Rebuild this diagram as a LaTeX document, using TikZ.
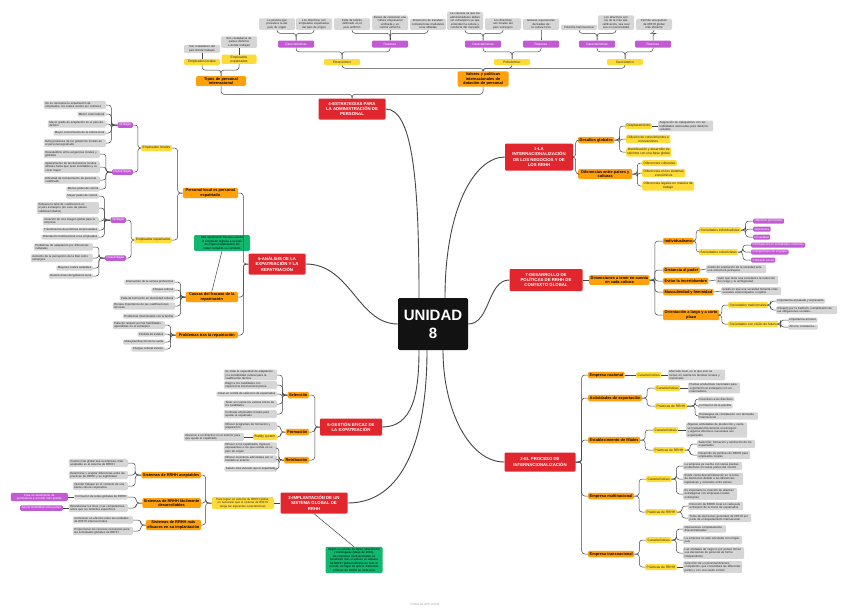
\documentclass[tikz,border=0pt]{standalone}
\usepackage{fontspec}
\setmainfont{Liberation Sans}
\usetikzlibrary{calc}
\hyphenpenalty=10000 \exhyphenpenalty=10000
\definecolor{cRed}{HTML}{E2262D}
\definecolor{cOrg}{HTML}{FFA00A}
\definecolor{cYel}{HTML}{FFDB3A}
\definecolor{cPur}{HTML}{C25BD3}
\definecolor{cGry}{HTML}{D6D6D6}
\definecolor{cGrn}{HTML}{10B86F}
\definecolor{cLine}{HTML}{454545}
\definecolor{cCen}{HTML}{121212}
\definecolor{cTxt}{HTML}{262626}
\newcommand\lnR[3][4]{\draw[conn] (#2.east) -- ++(#1,0) |- (#3.west);}
\newcommand\lnL[3][4]{\draw[conn] (#2.west) -- ++(-#1,0) |- (#3.east);}
\newcommand\lnU[3][5]{\draw[conn] (#2.north) -- ++(0,-#1) -| (#3.south);}
\begin{document}
\begin{tikzpicture}[x=1pt,y=-1pt,
  base/.style={rounded corners=1.2pt, inner xsep=1.5pt, inner ysep=1pt, align=center, text=cTxt},
  redb/.style={base, fill=cRed, text=white, font=\fontsize{4.3}{5.3}\selectfont\bfseries, inner xsep=2pt, inner ysep=1.5pt},
  org/.style={base, fill=cOrg, text=black, font=\fontsize{3.9}{4.7}\selectfont\bfseries, minimum height=6.5pt},
  yel/.style={base, fill=cYel, font=\fontsize{3.3}{4}\selectfont, minimum height=6pt},
  pur/.style={base, fill=cPur, text=white, font=\fontsize{3.2}{3.9}\selectfont, minimum height=5.5pt},
  gry/.style={base, fill=cGry, font=\fontsize{2.9}{3.5}\selectfont, align=left, minimum height=5pt, inner ysep=0.9pt},
  grn/.style={base, fill=cGrn, text=black, font=\fontsize{2.9}{3.5}\selectfont, inner ysep=1.2pt},
  tw/.style={text width=#1pt},
  conn/.style={draw=cLine, line width=0.5pt, rounded corners=3pt},
  mainl/.style={draw=cLine, line width=0.9pt},
]
\useasboundingbox[fill=white] (0,0) rectangle (848,611);

% ---------- centre ----------
\node[rounded corners=2pt, fill=cCen, text=white, font=\fontsize{15}{18}\selectfont\bfseries, minimum width=70pt, minimum height=52pt, align=center] (u) at (433,324) {UNIDAD\\8};

% ---------- main red topics ----------
\node[redb, minimum width=67pt, minimum height=21pt] (s4) at (352,109) {4-ESTRATEGIAS PARA\\LA ADMINISTRACIÓN DE\\PERSONAL};
\node[redb, minimum width=68pt, minimum height=27pt] (s1) at (539,157) {1-LA\\INTERNACIONALIZACIÓN\\DE LOS NEGOCIOS Y DE\\LOS RRHH};
\node[redb, minimum width=73pt, minimum height=22pt] (s7) at (546,280) {7-DESARROLLO DE\\POLÍTICAS DE RRHH DE\\CONTEXTO GLOBAL};
\node[redb, minimum width=71pt, minimum height=19pt] (s2) at (540,462) {2-EL PROCESO DE\\INTERNACIONALIZACIÓN};
\node[redb, minimum width=57pt, minimum height=21pt] (s5) at (277,264) {5-ANÁLISIS DE LA\\EXPATRIACIÓN Y LA\\REPATRIACIÓN};
\node[redb, minimum width=62pt, minimum height=17pt] (s6) at (351,427) {6-GESTIÓN EFICAZ DE\\LA EXPATRIACIÓN};
\node[redb, minimum width=67pt, minimum height=21pt] (s3) at (314,503) {3-IMPLANTACIÓN DE UN\\SISTEMA GLOBAL DE\\RRHH};

\draw[mainl] (s4.east) .. controls +(28,0) and +(0,-110) .. ([xshift=-14pt]u.north);
\draw[mainl] (s1.west) .. controls +(-30,0) and +(0,-90) .. ([xshift=12pt]u.north);
\draw[mainl] (s7.west) .. controls +(-22,0) and +(22,0) .. (u.east);
\draw[mainl] (s5.east) .. controls +(45,0) and +(-40,0) .. (u.west);
\draw[mainl] (s6.east) .. controls +(30,0) and +(0,45) .. ([xshift=-14pt]u.south);
\draw[mainl] (s3.east) .. controls +(55,0) and +(0,90) .. ([xshift=-6pt]u.south);
\draw[mainl] (s2.west) .. controls +(-35,0) and +(0,60) .. ([xshift=10pt]u.south);

% ---------- 4: top tree ----------
\node[org, tw=47] (tipos) at (221,81) {Tipos de personal internacional};
\node[org, tw=48] (valores) at (483,79) {Valores y políticas internacionales de dotación de personal};
\node[yel, minimum width=36pt, anchor=south] (elocT) at (202,65) {Empleados locales};
\node[yel, tw=32, anchor=south] (eexpT) at (239,64) {Empleados expatriados};
\node[gry, tw=33, align=center, anchor=south] (elocTg) at (202,53) {Son ciudadanos del país donde trabajan};
\node[gry, tw=33, align=center, anchor=south] (eexpTg) at (239,48) {Son ciudadanos de países distintos a donde trabajan};
\node[yel, minimum width=36pt] (etno) at (342,62) {Etnocéntrico};
\node[yel, minimum width=36pt] (poli) at (512,62) {Policéntrico};
\node[yel, minimum width=36pt] (geo) at (625,62) {Geocéntrico};
\node[pur, minimum width=36pt, minimum height=7pt] (etC) at (296,44) {Características};
\node[pur, minimum width=36pt, minimum height=7pt] (etR) at (390,44) {Razones};
\node[pur, minimum width=36pt, minimum height=7pt] (poC) at (483,44) {Características};
\node[pur, minimum width=36pt, minimum height=7pt] (poR) at (541,44) {Razones};
\node[pur, minimum width=36pt, minimum height=7pt] (geC) at (597,44) {Características};
\node[pur, minimum width=36pt, minimum height=7pt] (geR) at (653,44) {Razones};
\tikzset{tg/.style={gry, tw=33, align=center, anchor=south}}
\node[tg] (g1) at (277,30) {La postura que prevalece la del país de origen};
\node[tg] (g2) at (314,30) {Los directivos son empleados expatriados del país de origen};
\node[tg] (g3) at (352,30) {Falta de talento calificado en el país anfitrión};
\node[tg] (g4) at (390,30) {Deseo de conservar una cultura empresarial unificada y un control estrecho};
\node[tg] (g5) at (428,30) {Pretensión de transferir competencias medulares a las afiliadas};
\node[tg] (g6) at (465,30) {La creencia es que los administradores deben ser extranjeros ya que entienden la cultura y conducta del mercado};
\node[tg] (g7) at (503,30) {Los directivos son locales del país extranjero};
\node[tg] (g8) at (541,30) {Generar experiencias derivadas de la cultura local};
\node[tg] (g9) at (579,30) {Filosofía transnacional};
\node[tg] (g10) at (616,30) {Los directivos son los de la más alta calificación, sea cual sea su nacionalidad};
\node[tg] (g11) at (654,30) {Permite una gestión de RRHH global más eficiente};

\lnU[4]{s4}{tipos} \lnU[4]{s4}{valores}
\lnU[6]{tipos}{elocT} \lnU[6]{tipos}{eexpT}
\draw[conn] (elocT.north) -- (elocTg.south);
\draw[conn] (eexpT.north) -- (eexpTg.south);
\lnU[3]{valores}{etno} \lnU[3]{valores}{poli} \lnU[3]{valores}{geo}
\lnU[7]{etno}{etC} \lnU[7]{etno}{etR}
\lnU[7]{poli}{poC} \lnU[7]{poli}{poR}
\lnU[7]{geo}{geC} \lnU[7]{geo}{geR}
\lnU[7]{etC}{g1} \lnU[7]{etC}{g2}
\lnU[7]{etR}{g3} \lnU[7]{etR}{g4} \lnU[7]{etR}{g5}
\lnU[7]{poC}{g6} \lnU[7]{poC}{g7}
\lnU[7]{poR}{g8}
\lnU[7]{geC}{g9} \lnU[7]{geC}{g10}
\lnU[7]{geR}{g11}

% ---------- 5: left tree ----------
\node[org, minimum width=55pt, anchor=east] (plvp) at (238,193) {Personal local vs personal\\expatriado};
\node[org, minimum width=52pt, anchor=east] (causas) at (238,297) {Causas del fracaso de la\\repatriación};
\node[org, minimum width=62pt, anchor=east] (probl) at (238,335) {Problemas tras la repatriación};
\node[grn, tw=53] (gr5) at (222,243) {Una repatriación fracasa cuando el empleado regresa a su país de origen (repatriación) sin haber cumplido su cometido};
\lnL[5]{s5}{plvp} \lnL[5]{s5}{causas} \lnL[5]{s5}{probl}
\draw[conn] (gr5.south) -- (causas.north);

\node[yel, anchor=east] (eloc) at (172,148) {Empleados locales};
\node[yel, anchor=east] (eexp) at (172,240) {Empleados expatriados};
\lnL[5]{plvp}{eloc} \lnL[5]{plvp}{eexp}
\node[pur, anchor=east] (v1) at (133,125) {Ventajas};
\node[pur, anchor=east] (d1) at (133,172) {Desventajas};
\node[pur, anchor=east] (v2) at (126,220) {Ventajas};
\node[pur, anchor=east] (d2) at (126,258) {Desventajas};
\lnL[3]{eloc}{v1} \lnL[3]{eloc}{d1}
\lnL[3]{eexp}{v2} \lnL[3]{eexp}{d2}

\node[gry, tw=59, anchor=east] (v1a) at (106,105) {No es necesaria la expatriación de empleados, los cuales suelen ser costosos};
\node[gry, anchor=east] (v1b) at (106,114) {Menor costo laboral};
\node[gry, tw=55, anchor=east] (v1c) at (106,124) {Mayor grado de aceptación en el país de destino};
\node[gry, anchor=east] (v1d) at (106,133) {Mayor conocimiento de la cultura local};
\node[gry, tw=59, anchor=east] (v1e) at (106,143) {Evita presiones de los gobiernos locales en el personal expatriado};
\foreach \n in {v1a,v1b,v1c,v1d,v1e}{\lnL[6]{v1}{\n}}
\node[gry, tw=53, anchor=east] (d1a) at (100,154) {Desequilibrio entre exigencias locales y globales};
\node[gry, tw=53, anchor=east] (d1b) at (100,167) {Aplazamiento de las decisiones locales difíciles hasta que sean inevitables y su costo mayor};
\node[gry, tw=53, anchor=east] (d1c) at (100,180) {Dificultad de reclutamiento de personal cualificado};
\node[gry, anchor=east] (d1d) at (100,189) {Menos poder de control};
\foreach \n in {d1a,d1b,d1c,d1d}{\lnL[6]{d1}{\n}}
\node[gry, anchor=east] (v2a) at (99,196) {Mayor poder de control};
\node[gry, tw=59, anchor=east] (v2b) at (99,208) {Subsana la falta de cualificación en el país extranjero (en caso de países subdesarrollados)};
\node[gry, tw=53, anchor=east] (v2c) at (99,221) {Creación de una imagen global para la empresa};
\node[gry, anchor=east] (v2d) at (99,230) {Transferencia de prácticas empresariales};
\node[gry, anchor=east] (v2e) at (99,237) {Orientación multinacional a los empleados};
\foreach \n in {v2a,v2b,v2c,v2d,v2e}{\lnL[6]{v2}{\n}}
\node[gry, tw=56, anchor=east] (d2a) at (93,247) {Problemas de adaptación por diferencias culturales};
\node[gry, tw=59, anchor=east] (d2b) at (93,258) {Aumento de la percepción de la filial como extranjera};
\node[gry, anchor=east] (d2c) at (93,268) {Mayores costes salariales};
\node[gry, anchor=east] (d2d) at (93,276) {Restricciones del gobierno local};
\foreach \n in {d2a,d2b,d2c,d2d}{\lnL[6]{d2}{\n}}

\node[gry, anchor=east] (c1) at (175,282) {Interrupción de la carrera profesional};
\node[gry, anchor=east] (c2) at (175,290) {Choque cultural};
\node[gry, anchor=east] (c3) at (175,298) {Falta de formación en diversidad cultural};
\node[gry, tw=59, anchor=east] (c4) at (175,306) {Escasa importancia de las cualificaciones técnicas};
\node[gry, anchor=east] (c5) at (175,316) {Problemas relacionados con la familia};
\foreach \n in {c1,c2,c3,c4,c5}{\lnL[5]{causas}{\n}}
\node[gry, tw=49, anchor=east] (p1) at (165,325) {Falta de respeto por las habilidades aprendidas en el extranjero};
\node[gry, anchor=east] (p2) at (165,334) {Pérdida de estatus};
\node[gry, anchor=east] (p3) at (165,342) {Mala planificación de la vuelta};
\node[gry, anchor=east] (p4) at (165,349) {Choque cultural inverso};
\foreach \n in {p1,p2,p3,p4}{\lnL[5]{probl}{\n}}

% ---------- 6 ----------
\node[org, anchor=east] (sel) at (309,395) {Selección};
\node[org, anchor=east] (form) at (309,432) {Formación};
\node[org, anchor=east] (retr) at (309,460) {Retribución};
\lnL[5]{s6}{sel} \lnL[5]{s6}{form} \lnL[5]{s6}{retr}
\node[gry, tw=50, anchor=east] (sl1) at (277,375) {Se mide la capacidad de adaptación y la sensibilidad cultural para la cualificación técnica};
\node[gry, tw=50, anchor=east] (sl2) at (277,385) {Elegir a los candidatos con experiencia internacional previa};
\node[gry, anchor=east] (sl3) at (277,394) {Crear un comité de selección de expatriados};
\node[gry, tw=50, anchor=east] (sl4) at (277,404) {Tener en cuenta los valores éticos de los candidatos};
\node[gry, tw=50, anchor=east] (sl5) at (277,414) {Contratar empleados locales para ayudar al expatriado};
\foreach \n in {sl1,sl2,sl3,sl4,sl5}{\lnL[5]{sel}{\n}}
\node[gry, tw=50, anchor=east] (fo1) at (277,426) {Ofrecer programas de formación y preparación};
\node[yel, anchor=east] (buddy) at (277,437) {Buddy system};
\node[gry, tw=57, anchor=east] (buddyg) at (244,437) {Asesorar a un directivo en el exterior para que ayude al expatriado};
\lnL[5]{form}{fo1} \lnL[5]{form}{buddy}
\draw[conn] (buddy.west) -- (buddyg.east);
\node[gry, tw=50, anchor=east] (re1) at (277,448) {Ofrecer a los expatriados ingresos equivalentes a los que recibía en su país de origen};
\node[gry, tw=50, anchor=east] (re2) at (277,459) {Ofrecer incentivos adicionales por el traslado al exterior};
\node[gry, anchor=east] (re3) at (277,469) {Salario más elevado que el expatriado};
\foreach \n in {re1,re2,re3}{\lnL[5]{retr}{\n}}

% ---------- 3 ----------
\node[yel, tw=59, anchor=east, font=\fontsize{2.9}{3.5}\selectfont] (s3y) at (274,503) {Para lograr un sistema de RRHH global, es necesario que el sistema de RRHH tenga las siguientes características};
\draw[conn] (s3.west) -- (s3y.east);
\node[grn, tw=54] (gr3) at (354,560) {Según un estudio de Ryan, Wiechmann y Hemingway (Mayo de 2003), las empresas multinacionales se benefician más si aplican un sistema de RRHH global uniforme en todo el mundo, en lugar de aplicar diferentes políticas de RRHH en cada país};
\draw[conn] (s3.south) -- (gr3.north);
\node[org, anchor=east] (ac) at (201,475) {Sistemas de RRHH aceptables};
\node[org, anchor=east] (fd) at (201,503) {Sistemas de RRHH fácilmente\\desarrollables};
\node[org, anchor=east] (me) at (201,525) {Sistemas de RRHH más\\eficaces en su implantación};
\lnL[6]{s3y}{ac} \lnL[6]{s3y}{fd} \lnL[6]{s3y}{me}
\node[gry, tw=56, anchor=east] (ac1) at (128,463) {Cuanto más global sea la empresa, más aceptable es el sistema de RRHH};
\node[gry, tw=56, anchor=east] (ac2) at (128,475) {Determinar y aceptar diferencias entre las prácticas de RRHH y su legitimidad};
\node[gry, tw=52, anchor=east] (ac3) at (128,486) {Intentar trabajar en el contexto de una fuerte cultura corporativa};
\foreach \n in {ac1,ac2,ac3}{\lnL[6]{ac}{\n}}
\node[gry, anchor=east] (fd1) at (128,497) {Formación de redes globales de RRHH};
\node[gry, tw=56, anchor=east] (fd2) at (128,508) {Estandarizar los fines y las competencias, antes que los métodos específicos};
\foreach \n in {fd1,fd2}{\lnL[6]{fd}{\n}}
\node[pur, tw=54, anchor=east, font=\fontsize{2.9}{3.5}\selectfont] (fd1p) at (68,497) {Crea un sentimiento de pertenencia a un todo más grande};
\node[pur, anchor=east, font=\fontsize{2.9}{3.5}\selectfont] (fd2p) at (63,508) {Aporta flexibilidad entre países};
\draw[conn] (fd1.west) -- (fd1p.east);
\draw[conn] (fd2.west) -- (fd2p.east);
\node[gry, tw=57, anchor=east] (me1) at (133,520) {Comunicar en efectivo entre las unidades de RRHH internacionales};
\node[gry, tw=57, anchor=east] (me2) at (133,531) {Proporcionar los recursos necesarios para las actividades globales de RRHH};
\foreach \n in {me1,me2}{\lnL[5]{me}{\n}}

% ---------- 1 ----------
\node[org, anchor=west] (des) at (578,140) {Desafíos globales};
\node[org, minimum width=54pt, anchor=west] (dif) at (578,174) {Diferencias entre países y\\culturas};
\lnR[2.5]{s1}{des} \lnR[2.5]{s1}{dif}
\node[yel, anchor=west] (desp) at (625,126) {Desplazamiento};
\node[gry, tw=52, anchor=west] (despg) at (658,126) {Asignación de trabajadores con las habilidades adecuadas para destinos variados};
\node[yel, anchor=west] (difus) at (626,139) {Difusión de conocimientos e\\innovaciones};
\node[yel, anchor=west] (ident) at (626,152) {Identificación y desarrollo de\\talentos con una base global};
\foreach \n in {desp,difus,ident}{\lnR[5]{des}{\n}}
\draw[conn] (desp.east) -- (despg.west);
\node[yel, anchor=west] (dc) at (642,163) {Diferencias culturales};
\node[yel, anchor=west] (de) at (642,173) {Diferencias en los sistemas\\económicos};
\node[yel, anchor=west] (dl) at (642,186) {Diferencias legales en materia de\\trabajo};
\foreach \n in {dc,de,dl}{\lnR[5]{dif}{\n}}

% ---------- 7 ----------
\node[org, anchor=west] (dim) at (589,280) {Dimensiones a tener en cuenta\\en cada cultura};
\draw[conn] (s7.east) -- (dim.west);
\node[org, anchor=west] (ind) at (663,241) {Individualismo};
\node[org, anchor=west] (dp) at (663,270) {Distancia al poder};
\node[org, anchor=west] (ei) at (663,281) {Evitar la incertidumbre};
\node[org, anchor=west] (mf) at (663,292) {Masculinidad y feminidad};
\node[org, anchor=west] (ol) at (663,315) {Orientación a largo y a corto\\plazo};
\foreach \n in {ind,dp,ei,mf,ol}{\lnR[5]{dim}{\n}}
\node[yel, anchor=west] (si) at (699,230) {Sociedades individualistas};
\node[yel, anchor=west] (sc) at (699,252) {Sociedades colectivistas};
\lnR[2.5]{ind}{si} \lnR[2.5]{ind}{sc}
\tikzset{pl/.style={pur, anchor=west, minimum height=5pt, font=\fontsize{3}{3.6}\selectfont}}
\node[pl] (si1) at (753,221) {Objetivos personales};
\node[pl] (si2) at (753,229) {Autonomía};
\node[pl] (si3) at (753,237) {Privacidad};
\foreach \n in {si1,si2,si3}{\lnR[4.5]{si}{\n}}
\node[pl] (sc1) at (751,245) {Participación en actividades colectivas};
\node[pl] (sc2) at (751,252) {Compromiso con el grupo};
\node[pl] (sc3) at (751,260) {Cohesión social};
\foreach \n in {sc1,sc2,sc3}{\lnR[4.5]{sc}{\n}}
\node[gry, tw=57, anchor=west] (dpg) at (706,269) {Grado de aceptación de la sociedad ante una estructura jerárquica};
\node[gry, tw=59, anchor=west] (eig) at (716,280) {Valor que tiene una sociedad a la reducción del riesgo y la ambigüedad};
\node[gry, tw=57, anchor=west] (mfg) at (721,291) {Grado en que una sociedad fomenta roles sexuales estereotipados o rígidos};
\draw[conn] (dp.east) -- (dpg.west);
\draw[conn] (ei.east) -- (eig.west);
\draw[conn] (mf.east) -- (mfg.west);
\node[yel, anchor=west] (st) at (728,305) {Sociedades tradicionales};
\node[yel, anchor=west] (sf) at (728,324) {Sociedades con visión de futuro};
\lnR[2.5]{ol}{st} \lnR[2.5]{ol}{sf}
\node[gry, anchor=west] (st1) at (776,301) {Importancia al pasado y al presente};
\node[gry, tw=58, anchor=west] (st2) at (776,310) {Respeto por la tradición, cumplimiento de las obligaciones sociales...};
\lnR[2.5]{st}{st1} \lnR[2.5]{st}{st2}
\node[gry, anchor=west] (sf1) at (788,320) {Importancia al futuro};
\node[gry, anchor=west] (sf2) at (788,327) {Ahorro, constancia...};
\lnR[2.5]{sf}{sf1} \lnR[2.5]{sf}{sf2}

% ---------- 2 ----------
\node[org, anchor=west] (en) at (588,375) {Empresa nacional};
\node[org, anchor=west] (ae) at (588,398) {Actividades de exportación};
\node[org, anchor=west] (ef) at (588,440) {Establecimiento de filiales};
\node[org, anchor=west] (em) at (588,496) {Empresa multinacional};
\node[org, anchor=west] (et) at (588,554) {Empresa transnacional};
\foreach \n in {en,ae,ef,em,et}{\lnR[6]{s2}{\n}}
\node[yel, anchor=west] (enc) at (636,375) {Características};
\node[gry, tw=54, anchor=west] (encg) at (668,375) {Mercado local, en el que solo se tienen en cuenta los factores locales y nacionales};
\draw[conn] (en.east) -- (enc.west);
\draw[conn] (enc.east) -- (encg.west);
\node[yel, anchor=west] (aec) at (655,388) {Características};
\node[yel, anchor=west] (aep) at (655,406) {Prácticas de RRHH};
\lnR[5]{ae}{aec} \lnR[5]{ae}{aep}
\node[gry, tw=49, anchor=west] (aecg) at (688,388) {Plantas productivas nacionales para exportación al extranjero con un intermediario};
\draw[conn] (aec.east) -- (aecg.west);
\node[gry, anchor=west] (aep1) at (698,399) {Incentivos a los directivos};
\node[gry, anchor=west] (aep2) at (698,406) {Formación de la plantilla};
\node[gry, tw=57, anchor=west] (aep3) at (698,416) {Estrategias de contratación con demanda internacional};
\foreach \n in {aep1,aep2,aep3}{\lnR[8]{aep}{\n}}
\node[yel, anchor=west] (efc) at (653,430) {Características};
\node[yel, anchor=west] (efp) at (653,450) {Prácticas de RRHH};
\lnR[5]{ef}{efc} \lnR[5]{ef}{efp}
\node[gry, tw=58, anchor=west] (efcg) at (686,430) {Algunas actividades de producción y venta se trasladan físicamente al extranjero y algunos directivos nacionales son expatriados};
\draw[conn] (efc.east) -- (efcg.west);
\node[gry, tw=55, anchor=west] (efp1) at (697,444) {Selección, formación y retribución de los expatriados};
\node[gry, tw=50, anchor=west] (efp2) at (697,455) {Desarrollo de políticas de RRHH para empleados locales};
\lnR[5]{efp}{efp1} \lnR[5]{efp}{efp2}
\node[yel, anchor=west] (emc) at (646,479) {Características};
\node[yel, anchor=west] (emp) at (645,512) {Prácticas de RRHH};
\lnR[5]{em}{emc} \lnR[5]{em}{emp}
\node[gry, tw=56, anchor=west] (emc1) at (683,466) {La empresa ya cuenta con varias plantas productivas en varias partes del mundo};
\node[gry, tw=57, anchor=west] (emc2) at (683,479) {Existe cierta descentralización en la toma de decisiones debido a las diferencias legislativas y culturales entre países};
\node[gry, tw=51, anchor=west] (emc3) at (683,494) {Es importante la creación de alianzas estratégicas con empresas locales extranjeras};
\foreach \n in {emc1,emc2,emc3}{\lnR[5]{emc}{\n}}
\node[gry, tw=52, anchor=west] (emp1) at (688,506) {Dirección de RRHH local en cada país extranjero de la mano de expatriados};
\node[gry, tw=60, anchor=west] (emp2) at (688,518) {Toma de decisiones generales de RRHH por parte de el departamento internacional};
\foreach \n in {emp1,emp2}{\lnR[5]{emp}{\n}}
\node[yel, anchor=west] (etc) at (646,540) {Características};
\node[yel, anchor=west] (etp) at (645,567) {Prácticas de RRHH};
\lnR[5]{et}{etc} \lnR[5]{et}{etp}
\node[gry, tw=40, anchor=west] (etc1) at (683,529) {Operaciones completamente descentralizadas};
\node[gry, tw=56, anchor=west] (etc2) at (683,540) {La empresa no está vinculada con ningún país};
\node[gry, tw=58, anchor=west] (etc3) at (683,553) {Las unidades de negocio por países toman sus decisiones de personal de forma independiente};
\foreach \n in {etc1,etc2,etc3}{\lnR[5]{etc}{\n}}
\node[gry, tw=56, anchor=west] (etp1) at (683,567) {Selección de un personal directivo competente, que consolidará las diferentes partes y con una visión común};
\draw[conn] (etp.east) -- (etp1.west);

% ---------- footer ----------
\node[font=\fontsize{3.2}{4}\selectfont, text=black!35] (foot) at (425,604) {Powered with xmind};
\end{tikzpicture}
\end{document}
